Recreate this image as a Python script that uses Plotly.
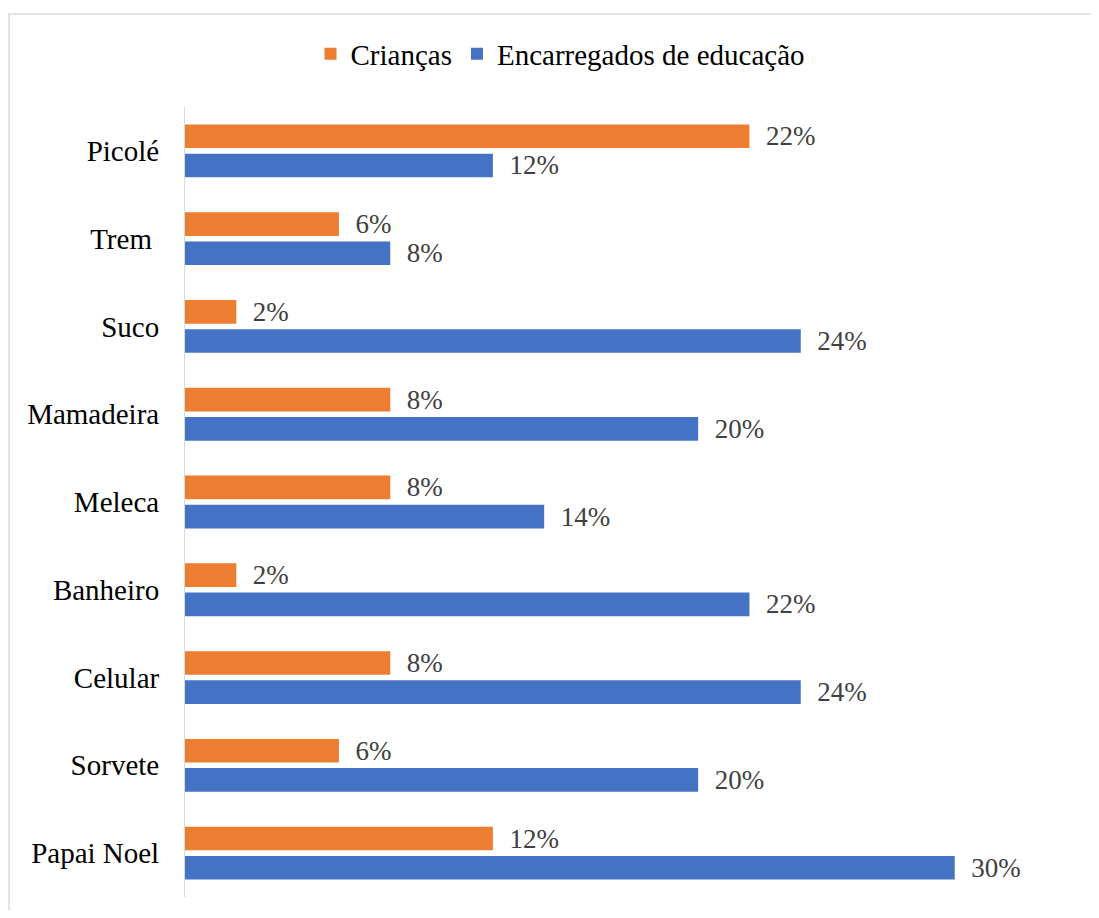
import plotly.graph_objects as go

# categories listed top to bottom, as in the chart
categorias = ["Picolé", "Trem\u00a0", "Suco", "Mamadeira", "Meleca",
              "Banheiro", "Celular", "Sorvete", "Papai Noel"]
criancas = [0.22, 0.06, 0.02, 0.08, 0.08, 0.02, 0.08, 0.06, 0.12]
encarregados = [0.12, 0.08, 0.24, 0.20, 0.14, 0.22, 0.24, 0.20, 0.30]

FONT = "Liberation Serif, Times New Roman, serif"
ORANGE = "#ED7D31"
BLUE = "#4472C4"

fig = go.Figure()
for nome, vals, cor in [("Crianças", criancas, ORANGE),
                        ("Encarregados de educação", encarregados, BLUE)]:
    fig.add_trace(go.Bar(
        y=categorias, x=vals, name=nome, orientation="h",
        marker=dict(color=cor, line=dict(width=0)),
        texttemplate="\u00a0\u00a0%{x:.0%}", textposition="outside",
        constraintext="none",
        textfont=dict(family=FONT, size=27, color="#404040"),
        cliponaxis=False,
    ))

# page has an 8px body margin, so the figure sits at (8, 8);
# keep it inside the window so no scrollbars show up
OFF = 8
W, H = 1099 - 2 * OFF, 918 - 2 * OFF
# plot area in page px: x 185..1083, y 107..897
L, T = 185 - OFF, 107 - OFF
R, B = (W + OFF) - 1083, (H + OFF) - 897
pw, ph = W - L - R, H - T - B

fig.update_layout(
    width=W, height=H,
    margin=dict(l=L, r=R, t=T, b=B),
    barmode="group", bargap=0.335, bargroupgap=0.19,
    plot_bgcolor="white", paper_bgcolor="white",
    font=dict(family=FONT, size=29, color="black"),
    showlegend=True,
    legend=dict(
        orientation="h", xref="container", yref="container",
        x=(560 - OFF) / W, xanchor="center", y=1 - (54 - OFF) / H, yanchor="middle",
        font=dict(family=FONT, size=29, color="black"),
        itemwidth=30, traceorder="normal",
    ),
    xaxis=dict(range=[0, 0.35], visible=False, showgrid=False, zeroline=False),
    yaxis=dict(
        autorange="reversed", showgrid=False, zeroline=False,
        showline=True, linecolor="#D9D9D9", linewidth=1,
        ticks="", ticklabelstandoff=19,
        tickfont=dict(family=FONT, size=29, color="black"),
    ),
    shapes=[dict(
        type="rect", xref="paper", yref="paper",
        x0=(9 - 185) / pw, x1=(1110 - 185) / pw,
        y0=-(930 - 897) / ph, y1=1 + (107 - 14) / ph,
        line=dict(color="#D9D9D9", width=1.5), fillcolor="rgba(0,0,0,0)",
        layer="below",
    )],
)

fig.write_html("out.html")
